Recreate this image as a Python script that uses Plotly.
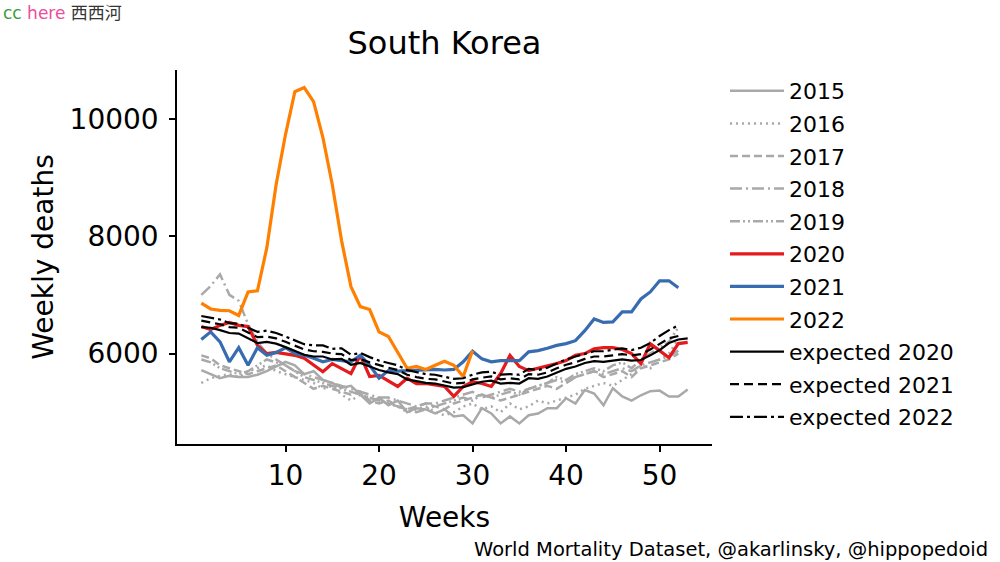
import plotly.graph_objects as go

weeks53 = list(range(1, 54))
weeks52 = list(range(1, 53))
weeks30 = list(range(1, 31))

y2015 = [5720, 5650, 5580, 5620, 5600, 5600, 5640, 5700, 5780, 5860,
         5800, 5650, 5700, 5550, 5500, 5420, 5450, 5300, 5150, 5250,
         5120, 5200, 5000, 5070, 5050, 4980, 5050, 4930, 4950, 4810,
         5070, 4980, 4810, 4930, 4810, 4950, 4980, 5070, 5070, 5240,
         5150, 5380, 5320, 5120, 5410, 5270, 5200, 5290, 5360, 5370,
         5270, 5270, 5390]
y2016 = [5500, 5580, 5620, 5650, 5600, 5700, 5750, 5800, 5700, 5650,
         5600, 5550, 5500, 5400, 5450, 5300, 5200, 5300, 5250, 5200,
         5150, 5100, 5000, 5050, 5100, 5000, 4950, 5000, 5100, 5150,
         5050, 5100, 5000, 5150, 5050, 5100, 5200, 5150, 5200, 5250,
         5300, 5400, 5450, 5500, 5450, 5550, 5650, 5800, 5750, 5900,
         6000, 6250]
y2017 = [5970, 5920, 5800, 5750, 5700, 5650, 5700, 5750, 5800, 5700,
         5600, 5500, 5400, 5450, 5400, 5350, 5300, 5350, 5200, 5150,
         5200, 5100, 5050, 5100, 5150, 5100, 5050, 5150, 5200, 5250,
         5300, 5250, 5200, 5250, 5300, 5350, 5400, 5450, 5400, 5500,
         5600, 5650, 5700, 5600, 5650, 5700, 5600, 5750, 5800, 5850,
         5900, 6000]
y2018 = [7000, 7150, 7350, 7000, 6900, 6500, 6200, 6000, 5900, 5800,
         5700, 5650, 5600, 5550, 5500, 5450, 5400, 5350, 5300, 5250,
         5250, 5200, 5150, 5100, 5150, 5150, 5200, 5250, 5300, 5350,
         5250, 5300, 5350, 5400, 5350, 5400, 5450, 5500, 5550, 5500,
         5600, 5650, 5700, 5650, 5700, 5750, 5700, 5800, 5850, 5900,
         5950, 6050]
y2019 = [5900, 5850, 5750, 5700, 5650, 5700, 5800, 5900, 5850, 5800,
         5700, 5600, 5550, 5500, 5450, 5400, 5350, 5300, 5250, 5200,
         5150, 5100, 5050, 5000, 5050, 5100, 5150, 5200, 5250, 5200,
         5300, 5250, 5300, 5350, 5300, 5400, 5450, 5500, 5600, 5550,
         5650, 5700, 5750, 5700, 5800, 5850, 5750, 5900, 6000, 6100,
         6200, 6450]
y2020 = [6460, 6410, 6480, 6530, 6480, 6460, 6140, 6000, 6020, 6000,
         5970, 5920, 5800, 5690, 5830, 5750, 5660, 5970, 5610, 5630,
         5530, 5440, 5580, 5490, 5490, 5460, 5440, 5270, 5440, 5520,
         5490, 5440, 5660, 5970, 5780, 5710, 5750, 5780, 5830, 5880,
         5970, 6000, 6080, 6100, 6100, 6070, 6000, 5830, 6170, 6050,
         5930, 6170, 6190]
y2021 = [6240, 6370, 6200, 5860, 6100, 5800, 6100, 5970, 6020, 6100,
         6000, 5970, 5920, 5860, 5900, 5880, 5860, 5970, 5800, 5580,
         5710, 5700, 5710, 5720, 5730, 5730, 5720, 5730, 5860, 6040,
         5910, 5860, 5880, 5880, 5880, 6030, 6050, 6090, 6140, 6170,
         6220, 6390, 6590, 6530, 6540, 6710, 6710, 6930, 7050, 7240,
         7240, 7120]
y2022 = [6860, 6760, 6735, 6730, 6650, 7050, 7070, 7800, 8880, 9730,
         10460, 10530, 10290, 9680, 8880, 7920, 7140, 6800, 6750, 6370,
         6290, 6030, 5750, 5780, 5730, 5800, 5870, 5800, 5610, 6050]
exp2020 = [6450, 6440, 6400, 6350, 6340, 6260, 6180, 6200, 6170, 6110,
           6040, 5980, 5950, 5950, 5900, 5910, 5810, 5840, 5780, 5720,
           5680, 5650, 5560, 5530, 5500, 5490, 5450, 5420, 5430, 5480,
           5520, 5540, 5490, 5500, 5490, 5580, 5570, 5610, 5680, 5740,
           5780, 5840, 5870, 5860, 5880, 5900, 5880, 5890, 5970, 6060,
           6180, 6240, 6260]
exp2021 = [6560, 6530, 6500, 6450, 6440, 6360, 6280, 6290, 6260, 6200,
           6130, 6070, 6040, 6030, 6000, 5990, 5890, 5910, 5850, 5800,
           5760, 5720, 5640, 5600, 5570, 5560, 5520, 5490, 5500, 5560,
           5590, 5610, 5560, 5580, 5560, 5650, 5640, 5680, 5750, 5810,
           5850, 5910, 5950, 5950, 5970, 5990, 5970, 5990, 6070, 6160,
           6260, 6300]
exp2022 = [6640, 6610, 6580, 6520, 6510, 6440, 6370, 6390, 6350, 6290,
           6220, 6160, 6140, 6140, 6080, 6090, 5980, 6010, 5940, 5880,
           5840, 5800, 5720, 5680, 5650, 5640, 5600, 5570, 5580, 5640,
           5680, 5690, 5640, 5650, 5640, 5740, 5720, 5760, 5830, 5900,
           5950, 6000, 6040, 6040, 6060, 6090, 6060, 6100, 6180, 6300,
           6400, 6480]

x_ticks = [10, 20, 30, 40, 50]
y_ticks = [6000, 8000, 10000]
y_tick_labels = ["6000", "8000", "10000"]

GREY = "#a9a9a9"
series = [
    ("2015", weeks53, y2015, GREY, 2.5, "solid"),
    ("2016", weeks52, y2016, GREY, 2.5, "2px,4px"),
    ("2017", weeks52, y2017, GREY, 2.5, "8px,4px"),
    ("2018", weeks52, y2018, GREY, 2.5, "12px,4px,2px,4px"),
    ("2019", weeks52, y2019, GREY, 2.5, "10px,3px,2px,3px,2px,3px"),
    ("2020", weeks53, y2020, "#e41a1c", 3.2, "solid"),
    ("2021", weeks52, y2021, "#386cb0", 3.2, "solid"),
    ("2022", weeks30, y2022, "#ff7f00", 3.2, "solid"),
    ("expected 2020", weeks53, exp2020, "black", 2.2, "solid"),
    ("expected 2021", weeks52, exp2021, "black", 2.2, "9px,5px"),
    ("expected 2022", weeks52, exp2022, "black", 2.2, "13px,4px,3px,4px"),
]

fig = go.Figure()
for i, (name, xs, ys, col, w, dash) in enumerate(series):
    fig.add_trace(go.Scatter(x=xs, y=ys, mode="lines", name=name,
                             legendgroup=f"g{i}",
                             line=dict(color=col, width=w, dash=dash)))

FONT = "DejaVu Sans, Verdana, sans-serif"
fig.update_layout(
    width=1000, height=562,
    margin=dict(l=177, r=288, t=70, b=118, autoexpand=False),
    paper_bgcolor="white", plot_bgcolor="white",
    font=dict(family=FONT, color="black", size=28),
    title=dict(text="South Korea", x=0.5, xref="paper", xanchor="center",
               y=1 - 43 / 562, yref="container", yanchor="middle",
               font=dict(size=32, family=FONT, color="black")),
    showlegend=True,
    legend=dict(x=1.0243, xanchor="left", y=1.0, yanchor="top",
                traceorder="grouped", tracegroupgap=1, itemwidth=54,
                font=dict(size=22, family=FONT, color="black"),
                bgcolor="rgba(0,0,0,0)", borderwidth=0),
    xaxis=dict(range=[-1.6, 55.6], tickvals=x_ticks, showgrid=False,
               automargin=False,
               zeroline=False, showline=True, linecolor="black", linewidth=1.5,
               ticks="outside", ticklen=6, tickwidth=1.5, tickcolor="black",
               tickfont=dict(size=28),
               title=dict(text="Weeks", font=dict(size=28), standoff=16)),
    yaxis=dict(range=[4460, 10830], tickvals=y_ticks, ticktext=y_tick_labels,
               showgrid=False, automargin=False,
               zeroline=False, showline=True, linecolor="black", linewidth=1.5,
               ticks="outside", ticklen=6, tickwidth=1.5, tickcolor="black",
               ticklabelstandoff=5,
               tickfont=dict(size=28),
               title=dict(text="Weekly deaths", font=dict(size=28), standoff=8)),
)

fig.add_annotation(text="World Mortality Dataset, @akarlinsky, @hippopedoid",
                   xref="paper", yref="paper", x=(990 - 177) / 535,
                   y=(444 - 549) / 374, xanchor="right", yanchor="middle",
                   showarrow=False, font=dict(size=19.5, family=FONT, color="black"))
fig.add_annotation(text="<span style='color:#3c9b3c'>cc</span> "
                        "<span style='color:#ee4d9b'>here</span> "
                        "<span style='color:#333333;font-family:Noto Sans CJK SC'>西西河</span>",
                   xref="paper", yref="paper", x=(1 - 177) / 535,
                   y=(444 - 11) / 374, xanchor="left", yanchor="middle",
                   showarrow=False, font=dict(size=17, family=FONT))

fig.write_html("out.html", config={"displayModeBar": False},
               post_script="document.body.style.margin='0';"
                           "document.body.style.overflow='hidden';")
